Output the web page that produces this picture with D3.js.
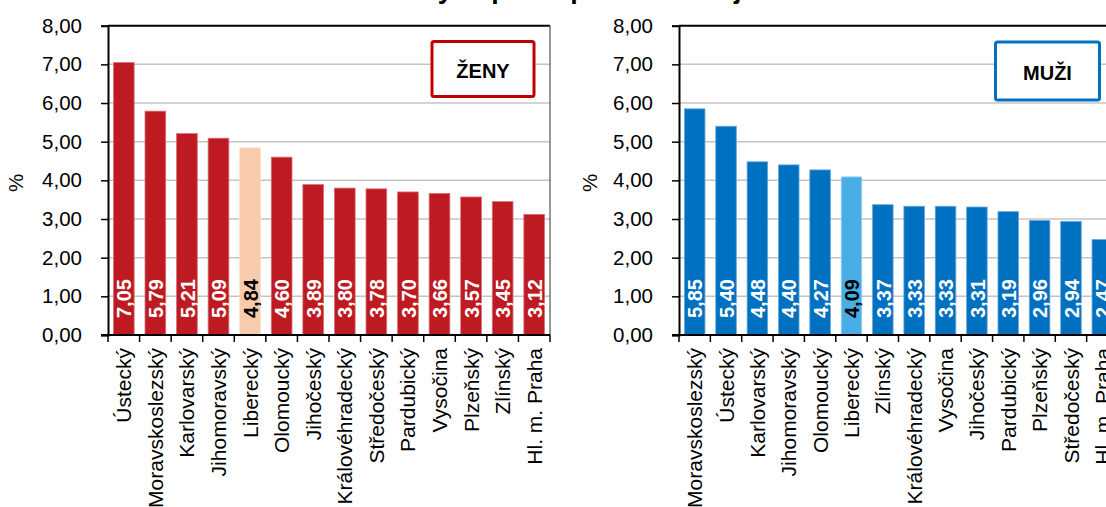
<!DOCTYPE html>
<html><head><meta charset="utf-8">
<script src="https://cdn.jsdelivr.net/npm/d3@7"></script>
<style>
html,body{margin:0;padding:0;background:#fff;overflow:hidden}
text{font-family:"Liberation Sans",Arial,sans-serif}
</style></head>
<body>
<svg id="c" width="1106" height="507"></svg>
<script>
const titleText = "Podíl nezaměstnaných podle pohlaví a krajů";
const yTicks = [0,1,2,3,4,5,6,7,8];

const womenCategories = ["Ústecký","Moravskoslezský","Karlovarský","Jihomoravský","Liberecký","Olomoucký","Jihočeský","Královéhradecký","Středočeský","Pardubický","Vysočina","Plzeňský","Zlínský","Hl. m. Praha"];
const womenValues = [7.05,5.79,5.21,5.09,4.84,4.60,3.89,3.80,3.78,3.70,3.66,3.57,3.45,3.12];

const menCategories = ["Moravskoslezský","Ústecký","Karlovarský","Jihomoravský","Olomoucký","Liberecký","Zlínský","Královéhradecký","Vysočina","Jihočeský","Pardubický","Plzeňský","Středočeský","Hl. m. Praha"];
const menValues = [5.85,5.40,4.48,4.40,4.27,4.09,3.37,3.33,3.33,3.31,3.19,2.96,2.94,2.47];

const highlight = "Liberecký";
const svg = d3.select("#c");
const fmt = v => d3.format(".2f")(v).replace(".", ",");
const FS = "20.5px";

svg.append("text").attr("x",195).attr("y",-2)
  .attr("font-size","26.8px").attr("font-weight","bold").attr("fill","#000")
  .text(titleText);

function panel(cfg){
  const g = svg.append("g");
  const y = d3.scaleLinear().domain([0,8]).range([335,25.7]);
  const x = d3.scaleBand().domain(cfg.cats).range([cfg.x0,cfg.x1]).paddingInner(0.344).paddingOuter(0.172);
  g.selectAll("line.grid").data(yTicks.filter(t=>t>0 && t<8)).enter().append("line")
    .attr("x1",cfg.x0).attr("x2",cfg.x1).attr("y1",d=>y(d)).attr("y2",d=>y(d))
    .attr("stroke","#c4c4c4").attr("stroke-width",1.5);
  const data = cfg.cats.map((c,i)=>({c, v: cfg.vals[i]}));
  g.selectAll("rect.bar").data(data).enter().append("rect")
    .attr("x",d=>x(d.c)).attr("width",x.bandwidth())
    .attr("y",d=>y(d.v)).attr("height",d=>y(0)-y(d.v))
    .attr("fill",d=>d.c===highlight?cfg.hi:cfg.col)
    .attr("stroke",d=>d.c===highlight?cfg.hiEdge:cfg.edge).attr("stroke-width",0.8);
  g.selectAll("text.val").data(data).enter().append("text")
    .attr("transform",d=>`translate(${x(d.c)+x.bandwidth()/2+0.5},${y(0)-17}) rotate(-90)`)
    .attr("dy","0.36em").attr("text-anchor","start")
    .attr("font-size","20px").attr("font-weight","bold")
    .attr("fill",d=>d.c===highlight?"#000":"#fff")
    .text(d=>fmt(d.v));
  g.append("line").attr("x1",cfg.x0).attr("x2",cfg.x1).attr("y1",25.7).attr("y2",25.7)
    .attr("stroke","#000").attr("stroke-width",2);
  if (cfg.rightBorder) g.append("line").attr("x1",cfg.x1).attr("x2",cfg.x1).attr("y1",25.7).attr("y2",335)
    .attr("stroke","#333").attr("stroke-width",1);
  const ya = d3.axisLeft(y).tickValues(yTicks).tickSize(7).tickPadding(19).tickFormat(fmt);
  const yg = g.append("g").attr("transform",`translate(${cfg.x0},0)`).call(ya);
  yg.select(".domain").attr("stroke","#000").attr("stroke-width",2);
  yg.selectAll(".tick line").attr("stroke","#000").attr("stroke-width",1.5);
  yg.selectAll(".tick text").attr("font-size",FS).attr("fill","#000")
    .attr("font-family","'Liberation Sans',Arial,sans-serif");
  const xa = d3.axisBottom(x).tickSize(0).tickPadding(0);
  const xg = g.append("g").attr("transform","translate(0,335)").call(xa);
  xg.select(".domain").remove();
  xg.append("line").attr("x1",cfg.x0-7).attr("x2",cfg.x1).attr("y1",0).attr("y2",0)
    .attr("stroke","#000").attr("stroke-width",2);
  const step = x.step();
  const bounds = d3.range(cfg.cats.length+1).map(i=>cfg.x0+i*step);
  xg.selectAll("line.xt").data(bounds).enter().append("line")
    .attr("x1",d=>d).attr("x2",d=>d).attr("y1",0).attr("y2",7)
    .attr("stroke","#000").attr("stroke-width",1.5);
  xg.selectAll(".tick text")
    .attr("transform","translate(0,13) rotate(-90)")
    .attr("text-anchor","end").attr("dy","0.36em").attr("x",0).attr("y",0)
    .attr("font-size","21px").attr("fill","#000")
    .attr("font-family","'Liberation Sans',Arial,sans-serif");
  g.append("text").attr("transform",`translate(${cfg.pctX},183) rotate(-90)`)
    .attr("text-anchor","middle").attr("dy","0.36em").attr("font-size",FS).text("%");
  g.append("rect").attr("x",cfg.box[0]).attr("y",cfg.box[1]).attr("width",cfg.box[2]).attr("height",cfg.box[3])
    .attr("rx",2).attr("fill","#fff").attr("stroke",cfg.boxCol).attr("stroke-width",3);
  g.append("text").attr("x",cfg.box[0]+cfg.box[2]/2).attr("y",cfg.box[1]+cfg.box[3]/2+2)
    .attr("dy","0.36em").attr("text-anchor","middle").attr("font-size","20px").attr("font-weight","bold")
    .text(cfg.label);
}

panel({cats:womenCategories, vals:womenValues, x0:108, x1:550, col:"#be1a22", hi:"#f8cbad",
  edge:"#d9707a", hiEdge:"#fbe0cc", pctX:16, rightBorder:true,
  box:[432,41.5,102,55], boxCol:"#c00000", label:"ŽENY"});
panel({cats:menCategories, vals:menValues, x0:679, x1:1118, col:"#0070c0", hi:"#4aaee6",
  edge:"#66a9dc", hiEdge:"#9fd2f2", pctX:590, rightBorder:false,
  box:[995.5,42,104,58], boxCol:"#0070c0", label:"MUŽI"});
</script>
</body></html>
